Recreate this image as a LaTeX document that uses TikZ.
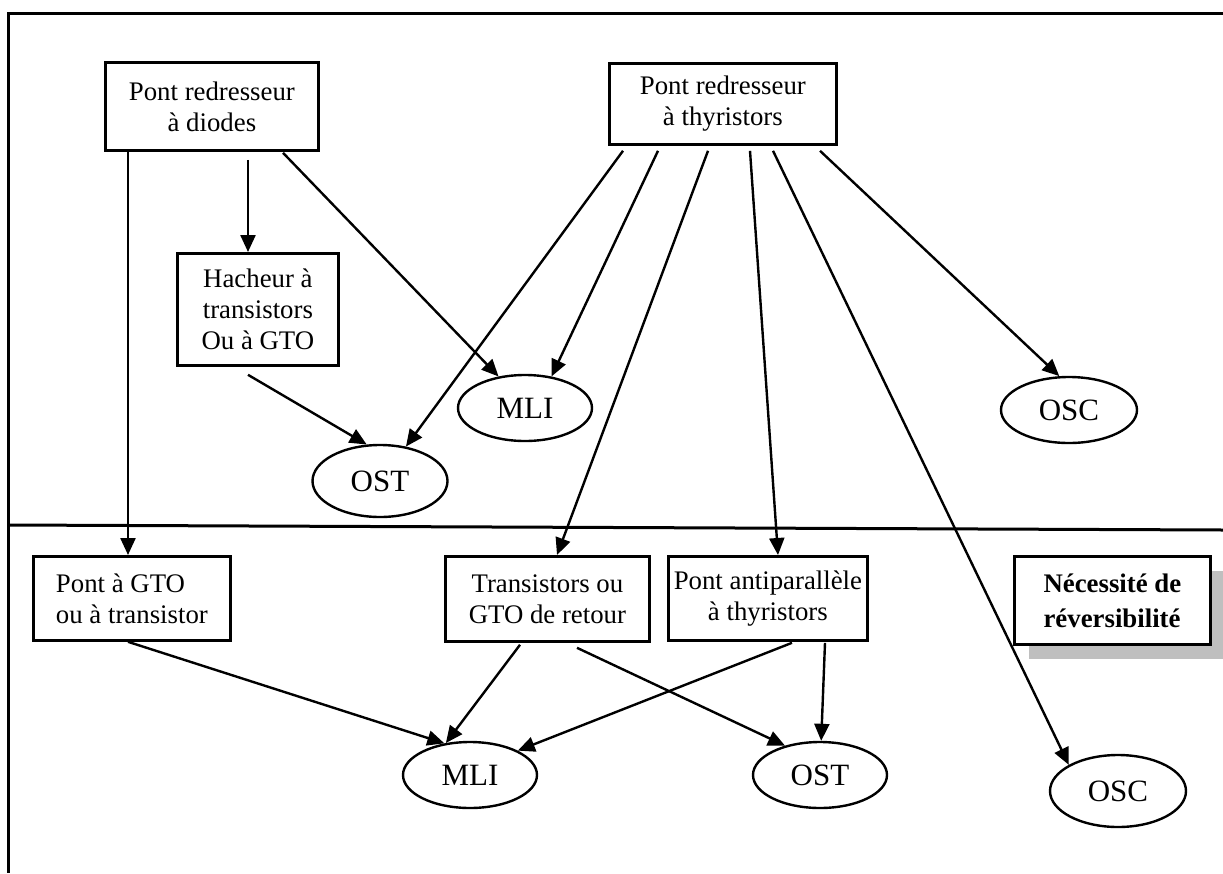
\documentclass[tikz,border=0pt]{standalone}
\usepackage{fontspec}
\setmainfont{Liberation Serif}
\usetikzlibrary{arrows.meta,calc,shapes.geometric}

\begin{document}
\begin{tikzpicture}[x=1pt,y=-1pt,
  box/.style={draw, line width=2.8pt, anchor=north west, inner sep=0pt,
    align=center, fill=white, font=\fontsize{26.8}{31}\selectfont},
  oval/.style={draw, ellipse, line width=2.4pt, inner sep=0pt,
    font=\fontsize{31}{32}\selectfont},
  link/.style={line width=2.4pt, -{Triangle[length=17pt,width=15pt]}},
  frame/.style={line width=3pt}]
\useasboundingbox (0,0) rectangle (1223,873);

% outer frame and separating rule
\draw[frame] (1223,13) -- (8,13) -- (8,873);
\draw[frame] (8,525) -- (1223,530);

% upper level: sources
\node[box, minimum width=213pt, minimum height=88pt] (dio) at (104,61)
  {Pont redresseur\\à diodes};
\node[box, minimum width=227pt, minimum height=81pt] (thy) at (608,62)
  {Pont redresseur\\à thyristors};
\node[box, minimum width=161pt, minimum height=112pt] (hach) at (176,252)
  {Hacheur à\\transistors\\Ou à GTO};

% upper level: targets
\node[oval, minimum width=134pt, minimum height=66pt] (mli1) at (525,408) {MLI};
\node[oval, minimum width=135pt, minimum height=72pt] (ost1) at (380,481) {OST};
\node[oval, minimum width=136pt, minimum height=66pt] (osc1) at (1069,410) {OSC};

% lower level: reversible converters
\node[box, align=left, minimum width=197pt, minimum height=84pt] (gto) at (32,555)
  {Pont à GTO\\ou à transistor};
\node[box, minimum width=204pt, minimum height=85pt] (tr) at (444,555)
  {Transistors ou\\GTO de retour};
\node[box, minimum width=199pt, minimum height=84pt] (anti) at (667,555)
  {Pont antiparallèle\\à thyristors};

% shadowed note
\fill[black!25] (1029,571) rectangle (1225,659);
\node[box, align=left, minimum width=196pt, minimum height=88pt,
  font=\fontsize{26.8}{35}\selectfont\bfseries] (note) at (1013,555)
  {Nécessité de\\réversibilité};

% lower level: targets
\node[oval, minimum width=134pt, minimum height=66pt] (mli2) at (470,775) {MLI};
\node[oval, minimum width=134pt, minimum height=66pt] (ost2) at (820,775) {OST};
\node[oval, minimum width=136pt, minimum height=72pt] (osc2) at (1118,791) {OSC};

% connectors from the diode bridge
\draw[link] ($(dio.south west)+(24,0)$) -- ($(gto.north west)+(96,0)$);
\draw[link] ($(dio.south west)+(144,8)$) -- ($(hach.north west)+(72,0)$);
\draw[link] ($(dio.south west)+(179,1)$) -- (mli1.130);

% connectors from the thyristor bridge
\draw[link] ($(thy.south west)+(15,5)$) -- (ost1.53);
\draw[link] ($(thy.south west)+(50,5)$) -- (mli1.50);
\draw[link] ($(thy.south west)+(100,5)$) -- ($(tr.north west)+(113,0)$);
\draw[link] ($(thy.south west)+(142,5)$) -- ($(anti.north west)+(111,0)$);
\draw[link] ($(thy.south west)+(165,5)$) -- (osc2.152);
\draw[link] ($(thy.south west)+(212,5)$) -- (osc1.106);

% connector from the chopper
\draw[link] ($(hach.south west)+(72,8)$) -- (ost1.110);

% connectors of the lower level
\draw[link] ($(gto.south west)+(96,0)$) -- (mli2.129);
\draw[link] ($(tr.south west)+(76,2)$) -- (mli2.127);
\draw[link] ($(tr.south west)+(133,5)$) -- (ost2.140);
\draw[link] ($(anti.south west)+(125,1)$) -- (mli2.27);
\draw[link] ($(anti.south west)+(158,1)$) -- (ost2.88);
\end{tikzpicture}
\end{document}
